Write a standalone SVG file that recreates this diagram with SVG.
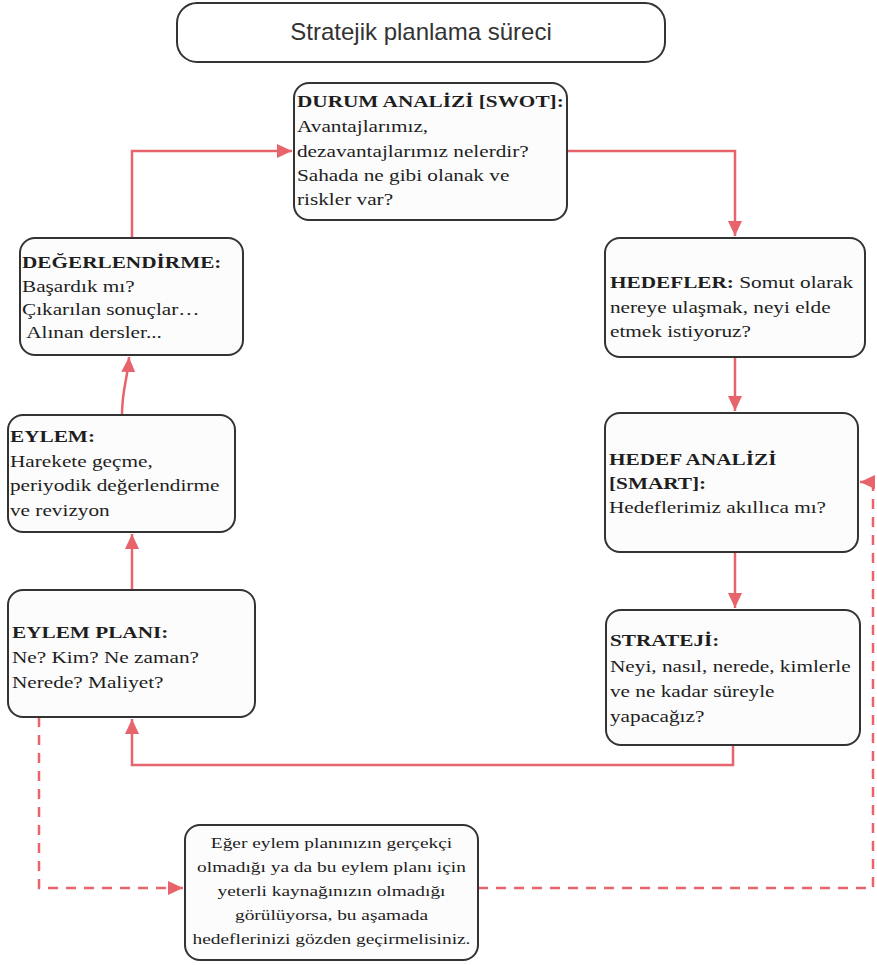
<svg xmlns="http://www.w3.org/2000/svg" width="877" height="965" viewBox="0 0 877 965">
<defs>
<style>
.box{fill:#fcfcfc;stroke:#333;stroke-width:2}
.title{fill:#fff;stroke:#333;stroke-width:2}
.t{font-family:"Liberation Serif","Times New Roman",serif;font-size:17px;fill:#1e1e1e}
.b{font-weight:bold}
.tt{font-family:"Liberation Sans",Arial,sans-serif;font-size:24px;fill:#333}
.c{fill:none;stroke:#e8646d;stroke-width:2.5}
.d{fill:none;stroke:#e8646d;stroke-width:2.5;stroke-dasharray:10 8}
</style>
<marker id="ah" markerUnits="userSpaceOnUse" markerWidth="16" markerHeight="14" refX="15" refY="7" orient="auto">
<path d="M0,0 L15,7 L0,14 z" fill="#e8646d"/>
</marker>
</defs>
<rect width="877" height="965" fill="#fff"/>

<g id="connectors">
<path class="c" d="M132,238 L132,151 L292,151" marker-end="url(#ah)"/>
<path class="c" d="M567,151 L735,151 L735,236" marker-end="url(#ah)"/>
<path class="c" d="M735,357 L735,411" marker-end="url(#ah)"/>
<path class="c" d="M735,552 L735,608" marker-end="url(#ah)"/>
<path class="c" d="M733,745 L733,765 L132,765 L132,719" marker-end="url(#ah)"/>
<path class="c" d="M132,590 L132,534" marker-end="url(#ah)"/>
<path class="c" d="M122,415 C122,388 128,378 129,357" marker-end="url(#ah)"/>
<path class="d" d="M39,717 L39,888 L183,888" marker-end="url(#ah)"/>
<path class="d" d="M478,888 L873,888 L873,482 L860,482" marker-end="url(#ah)"/>
</g>

<g id="title">
<rect class="title" x="177" y="3" width="488" height="59" rx="20"/>
<text class="tt" x="421" y="40" text-anchor="middle">Stratejik planlama süreci</text>
</g>

<g id="durum">
<rect class="box" x="294" y="83" width="273" height="137" rx="15"/>
<g transform="translate(297 0) scale(1.25 1)">
<text class="t"><tspan class="b" x="0" y="107">DURUM ANALİZİ [SWOT]:</tspan><tspan x="0" y="132">Avantajlarımız,</tspan><tspan x="0" y="157">dezavantajlarımız nelerdir?</tspan><tspan x="0" y="181">Sahada ne gibi olanak ve</tspan><tspan x="0" y="205">riskler var?</tspan></text>
</g>
</g>

<g id="hedefler">
<rect class="box" x="605" y="238" width="260" height="119" rx="15"/>
<g transform="translate(610 0) scale(1.25 1)">
<text class="t"><tspan x="0" y="288"><tspan class="b">HEDEFLER:</tspan> Somut olarak</tspan><tspan x="0" y="313">nereye ulaşmak, neyi elde</tspan><tspan x="0" y="337">etmek istiyoruz?</tspan></text>
</g>
</g>

<g id="hedef-analizi">
<rect class="box" x="605" y="413" width="253" height="139" rx="15"/>
<g transform="translate(609 0) scale(1.25 1)">
<text class="t"><tspan class="b" x="0" y="465">HEDEF ANALİZİ</tspan><tspan class="b" x="0" y="489">[SMART]:</tspan><tspan x="0" y="513">Hedeflerimiz akıllıca mı?</tspan></text>
</g>
</g>

<g id="strateji">
<rect class="box" x="606" y="610" width="254" height="135" rx="15"/>
<g transform="translate(610 0) scale(1.25 1)">
<text class="t"><tspan class="b" x="0" y="646">STRATEJİ:</tspan><tspan x="0" y="672">Neyi, nasıl, nerede, kimlerle</tspan><tspan x="0" y="697">ve ne kadar süreyle</tspan><tspan x="0" y="722">yapacağız?</tspan></text>
</g>
</g>

<g id="eylem-plani">
<rect class="box" x="8" y="590" width="247" height="127" rx="15"/>
<g transform="translate(12 0) scale(1.25 1)">
<text class="t"><tspan class="b" x="0" y="638">EYLEM PLANI:</tspan><tspan x="0" y="663">Ne? Kim? Ne zaman?</tspan><tspan x="0" y="688">Nerede? Maliyet?</tspan></text>
</g>
</g>

<g id="eylem">
<rect class="box" x="8" y="415" width="227" height="117" rx="15"/>
<g transform="translate(10 0) scale(1.25 1)">
<text class="t"><tspan class="b" x="0" y="442">EYLEM:</tspan><tspan x="0" y="467">Harekete geçme,</tspan><tspan x="0" y="491">periyodik değerlendirme</tspan><tspan x="0" y="516">ve revizyon</tspan></text>
</g>
</g>

<g id="degerlendirme">
<rect class="box" x="20" y="238" width="223" height="117" rx="15"/>
<g transform="translate(22 0) scale(1.25 1)">
<text class="t"><tspan class="b" x="0" y="268">DEĞERLENDİRME:</tspan><tspan x="0" y="292">Başardık mı?</tspan><tspan x="0" y="315">Çıkarılan sonuçlar…</tspan><tspan x="0" y="338"> Alınan dersler...</tspan></text>
</g>
</g>

<g id="not">
<rect class="box" x="185" y="825" width="293" height="135" rx="15"/>
<g transform="translate(331.5 0) scale(1.25 1)">
<text class="t" style="font-size:15.5px" text-anchor="middle"><tspan x="0" y="848">Eğer eylem planınızın gerçekçi</tspan><tspan x="0" y="872">olmadığı ya da bu eylem planı için</tspan><tspan x="0" y="896">yeterli kaynağınızın olmadığı</tspan><tspan x="0" y="920">görülüyorsa, bu aşamada</tspan><tspan x="0" y="944">hedeflerinizi gözden geçirmelisiniz.</tspan></text>
</g>
</g>
</svg>
